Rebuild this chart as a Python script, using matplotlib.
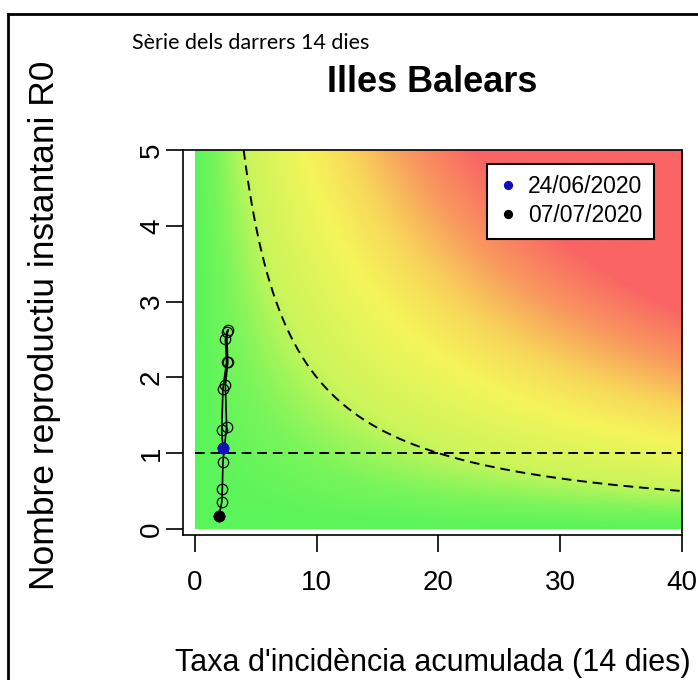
import numpy as np
import matplotlib
matplotlib.use("Agg")
from matplotlib import pyplot as plt
from matplotlib.colors import LinearSegmentedColormap
from matplotlib.lines import Line2D

plt.rcParams['font.family'] = ['Liberation Sans', 'DejaVu Sans']

# Series of the last 14 days (24/06/2020 -> 07/07/2020)
incidence = [2.30, 2.20, 2.30, 2.60, 2.50, 2.75, 2.60, 2.70, 2.50, 2.60, 2.30, 2.25, 2.20, 1.97]
r0 = [1.07, 1.30, 1.85, 2.20, 2.50, 2.63, 2.60, 2.20, 1.90, 1.35, 0.88, 0.53, 0.35, 0.17]
legend_labels = ["24/06/2020", "07/07/2020"]

x_ticks = [0, 10, 20, 30, 40]
y_ticks = [0, 1, 2, 3, 4, 5]

# risk = incidence * R0, colour nodes of the background
risk_nodes = [0, 8, 22, 45, 63, 88, 115, 200]
risk_colors = ["#5af55a", "#78f55a", "#cdf55a", "#f5f55a", "#f8d75a", "#f9965f", "#fa6464", "#fa6464"]
risk_level = 20  # dashed curve: incidence * R0 = 20

W, H = 698, 680
fig = plt.figure(figsize=(W / 100, H / 100), dpi=100)

# axes box in pixels: left 183, right 682, top 150, bottom 535
ax = fig.add_axes([183 / W, 1 - 535 / H, (682 - 183) / W, (535 - 150) / H])
ax.set_xlim(-0.98, 40)
ax.set_ylim(-0.08, 5)

# background gradient
cmap = LinearSegmentedColormap.from_list(
    "risk", list(zip(np.array(risk_nodes) / risk_nodes[-1], risk_colors)))
gx = np.linspace(0, 40, 400)
gy = np.linspace(0, 5, 300)
GX, GY = np.meshgrid(gx, gy)
ax.imshow(GX * GY, origin="lower", extent=[0, 40, 0, 5], aspect="auto",
          cmap=cmap, vmin=0, vmax=risk_nodes[-1], interpolation="bilinear", zorder=0)

# reference lines
ax.plot([0, 40], [1, 1], color="black", lw=1.4, ls=(0, (5, 3)), zorder=2)
hx = np.linspace(risk_level / 5, 40, 300)
ax.plot(hx, risk_level / hx, color="black", lw=1.4, ls=(0, (5, 3)), zorder=2)

# series
ax.plot(incidence, r0, color="black", lw=1.2, marker="o", ms=7.5, mfc="none",
        mec="black", mew=0.9, zorder=3)
ax.plot(incidence[0], r0[0], "o", color="#1010c0", ms=7.5, zorder=4, label=legend_labels[0])
ax.plot(incidence[-1], r0[-1], "o", color="black", ms=7.5, zorder=4, label=legend_labels[1])

leg = ax.legend(loc="upper right", bbox_to_anchor=((654 - 183) / 499, (535 - 164) / 385),
                borderaxespad=0, fancybox=False, framealpha=1, edgecolor="black",
                fontsize=16.5, markerscale=0.75, handlelength=0.8, handletextpad=0.5,
                borderpad=0.5, labelspacing=0.25)
leg.get_frame().set_linewidth(1.5)

ax.set_xticks(x_ticks)
ax.set_yticks(y_ticks)
ax.tick_params(axis="both", length=12, width=1.2, labelsize=20)
ax.tick_params(axis="x", pad=13)
ax.tick_params(axis="y", pad=1)
for lab in ax.get_yticklabels():
    lab.set_rotation(90)
    lab.set_va("center")
for s in ax.spines.values():
    s.set_linewidth(1.2)

fig.text(433 / W, 1 - 663 / H, "Taxa d'incidència acumulada (14 dies)",
         ha="center", va="center", fontsize=22)
fig.text(45 / W, 1 - 325 / H, "Nombre reproductiu instantani R0",
         ha="center", va="center", rotation=90, fontsize=25.5)
fig.text(432 / W, 1 - 83 / H, "Illes Balears", ha="center", va="center",
         fontsize=26, fontweight="bold")
fig.text(132 / W, 1 - 43 / H, "Sèrie dels darrers 14 dies", ha="left", va="center",
         fontsize=15.5, family=["Lato", "DejaVu Sans"])

# outer frame (left and top)
fig.add_artist(Line2D([8 / W, 8 / W], [0, 1 - 14 / H], transform=fig.transFigure,
                      color="black", lw=2))
fig.add_artist(Line2D([8 / W, 1], [1 - 14 / H, 1 - 14 / H], transform=fig.transFigure,
                      color="black", lw=2))

fig.savefig("out.png", dpi=100)
